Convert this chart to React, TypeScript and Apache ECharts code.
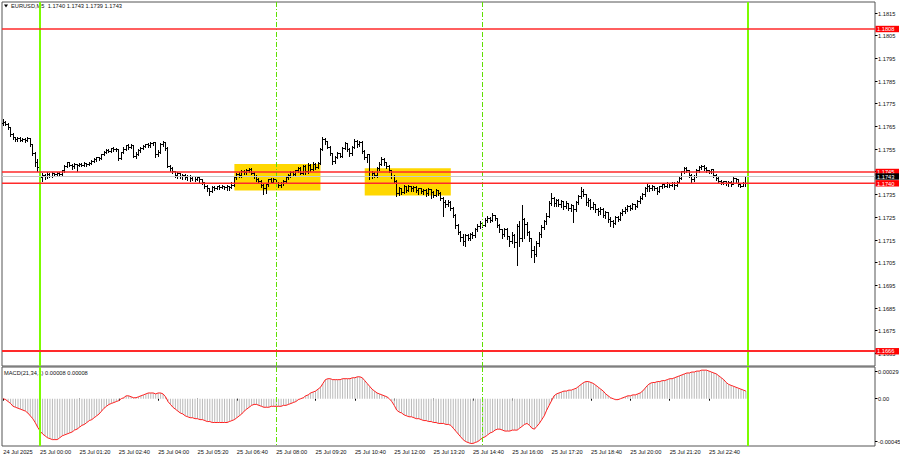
import React, { useEffect, useRef } from 'react';
import * as echarts from 'echarts';

// ---------- data (prices in pips above BASE) ----------
const SYMBOL = 'EURUSD,M5';
const BASE = 1.17;
const PIP = 0.0001;
const START_DAY = 24;
const START_MINUTE = 22 * 60 + 45; // first bar 24 Jul 22:45
const STEP_MINUTES = 5;
const TOTAL_SLOTS = 355; // bars + empty space on the right
const FIRST_OPEN = 66.5;

const CLOSE = [
  67.0, 66.0, 64.5, 61.5, 60.0, 59.2, 59.8, 59.0, 59.5, 58.8,
  59.6, 57.0, 53.0, 49.0, 47.0, 42.5, 43.5, 43.0, 44.0, 43.2,
  44.2, 43.8, 44.5, 44.0, 45.5, 47.5, 49.0, 48.0, 47.2, 48.3,
  47.8, 48.5, 48.0, 48.6, 48.2, 48.8, 49.8, 50.5, 51.2, 50.8,
  52.5, 53.5, 54.5, 54.0, 55.2, 54.8, 55.0, 50.8, 53.5, 55.0,
  56.5, 55.8, 56.8, 52.0, 52.8, 54.5, 55.5, 56.2, 57.0, 56.5,
  57.5, 57.8, 52.5, 53.8, 57.0, 58.0, 55.5, 47.5, 46.5, 45.0,
  43.5, 44.2, 42.8, 43.6, 42.5, 43.2, 42.0, 42.8, 41.8, 42.5,
  41.5, 40.2, 38.8, 37.5, 36.5, 38.2, 37.8, 38.6, 38.2, 38.8,
  38.0, 38.6, 38.2, 39.0, 42.5, 44.0, 43.5, 45.2, 44.6, 45.8,
  46.2, 44.5, 43.0, 41.8, 41.0, 39.0, 37.5, 39.5, 41.5, 40.5,
  41.8, 40.0, 39.0, 39.8, 40.8, 42.5, 43.5, 44.8, 44.0, 45.5,
  46.5, 44.5, 47.5, 45.0, 47.8, 46.0, 48.5, 47.0, 48.8, 55.0,
  59.5, 58.5, 56.0, 53.0, 49.5, 51.5, 53.0, 52.0, 55.5, 57.5,
  55.0, 53.0, 56.0, 58.5, 57.0, 58.2, 54.0, 51.5, 52.5, 43.0,
  44.5, 43.5, 46.5, 48.5, 50.5, 49.0, 47.5, 45.5, 43.0, 41.0,
  35.5, 37.5, 36.0, 38.5, 37.0, 38.8, 37.5, 38.2, 36.8, 37.6,
  36.2, 37.0, 35.5, 37.2, 36.0, 34.5, 36.8, 35.5, 33.5, 31.5,
  30.5, 31.5, 29.0, 26.0, 21.5, 18.5, 16.0, 14.5, 17.0, 15.8,
  17.5, 16.8, 19.5, 21.0, 22.5, 21.5, 23.8, 24.5, 23.5, 25.8,
  24.5, 21.5, 19.5, 17.5, 19.8, 16.5, 14.5, 17.0, 14.0, 21.0,
  15.5, 24.0, 22.0, 18.5, 15.5, 10.5, 8.5, 13.5, 17.5, 20.5,
  23.0, 25.5, 31.0, 33.5, 31.0, 32.5, 30.5, 31.8, 29.8, 31.2,
  29.0, 30.2, 28.5, 31.5, 34.0, 36.5, 35.0, 31.5, 32.5, 29.5,
  30.8, 28.5, 27.5, 28.5, 26.0, 27.0, 24.0, 23.0, 22.5, 25.0,
  24.2, 26.5, 27.8, 28.5, 29.8, 29.0, 30.5, 29.8, 31.8, 33.5,
  35.0, 37.5, 38.8, 37.5, 38.5, 37.8, 36.5, 38.5, 39.5, 38.8,
  39.8, 39.0, 40.0, 39.2, 40.5, 42.0, 45.0, 46.5, 45.5, 43.5,
  41.5, 43.0, 45.5, 46.8, 47.5, 46.5, 45.5, 45.0, 46.0, 43.5,
  42.2, 41.0, 40.2, 40.6, 40.0, 40.5, 39.6, 42.0, 41.5, 39.5,
  38.8, 40.0, 43.0,
];

const HIGH = [
  68.2, 67.5, 66.5, 64.8, 62.0, 60.5, 60.3, 60.2, 60.0, 60.0,
  60.6, 59.8, 57.5, 54.0, 50.5, 54.5, 44.5, 44.0, 44.8, 44.5,
  44.8, 44.6, 45.0, 45.0, 46.0, 48.0, 49.6, 49.4, 48.5, 48.8,
  48.6, 49.0, 48.8, 49.2, 49.0, 49.3, 50.2, 51.0, 51.8, 51.6,
  53.0, 54.2, 55.0, 55.2, 55.6, 55.8, 55.4, 55.2, 54.0, 55.8,
  57.0, 57.2, 57.3, 57.0, 53.6, 55.0, 56.0, 56.8, 57.5, 57.6,
  58.0, 58.4, 58.0, 54.5, 57.6, 58.6, 58.2, 55.8, 48.2, 47.0,
  45.5, 44.8, 44.5, 44.2, 44.0, 43.8, 43.5, 43.4, 43.0, 43.2,
  42.8, 42.0, 40.5, 39.2, 38.0, 38.6, 38.8, 39.0, 39.2, 39.4,
  39.0, 39.2, 39.0, 40.5, 43.0, 44.6, 45.0, 45.8, 46.0, 46.4,
  46.8, 46.6, 45.0, 43.5, 42.2, 41.5, 39.5, 40.0, 42.0, 42.2,
  42.4, 42.0, 40.6, 40.5, 41.5, 43.0, 44.0, 45.4, 45.5, 46.0,
  47.2, 47.0, 48.2, 48.0, 49.0, 48.5, 49.2, 49.0, 49.5, 55.5,
  60.5, 60.0, 58.8, 56.5, 53.5, 52.0, 53.6, 53.5, 56.0, 58.0,
  57.8, 55.5, 56.5, 59.5, 59.0, 58.8, 58.5, 54.5, 53.0, 52.8,
  45.5, 45.0, 47.0, 49.5, 51.6, 51.0, 49.5, 48.0, 46.0, 43.5,
  41.5, 38.2, 38.0, 39.2, 39.0, 39.4, 39.0, 38.8, 38.6, 38.0,
  37.8, 37.6, 37.4, 37.8, 37.5, 36.6, 37.5, 37.2, 36.0, 34.0,
  32.5, 32.5, 32.0, 29.5, 26.5, 22.0, 19.0, 17.5, 17.8, 17.6,
  18.2, 18.6, 20.2, 22.0, 23.4, 23.0, 24.6, 25.5, 25.0, 26.8,
  26.2, 24.8, 22.0, 20.0, 20.5, 20.2, 17.0, 18.5, 17.6, 22.0,
  23.5, 30.5, 24.5, 23.0, 19.0, 16.0, 12.5, 14.5, 18.5, 21.5,
  24.0, 27.0, 32.0, 35.7, 34.0, 33.2, 33.0, 32.6, 32.2, 32.0,
  31.5, 31.0, 30.6, 32.2, 34.8, 38.5, 37.5, 35.5, 33.6, 33.0,
  31.6, 31.0, 29.2, 29.5, 29.0, 27.8, 27.2, 25.0, 24.0, 25.6,
  25.8, 27.2, 28.6, 29.6, 30.5, 30.5, 31.2, 31.0, 32.6, 34.5,
  35.8, 38.2, 39.6, 39.2, 39.2, 39.0, 38.5, 39.0, 40.0, 40.2,
  40.4, 40.2, 40.6, 40.4, 41.2, 42.8, 45.6, 47.0, 47.0, 46.0,
  44.0, 43.8, 46.2, 47.5, 48.2, 48.0, 47.0, 46.0, 46.5, 46.2,
  44.0, 42.6, 41.5, 41.0, 41.0, 41.2, 41.0, 42.8, 42.5, 42.0,
  40.2, 40.5, 43.0,
];

const LOW = [
  65.8, 65.5, 64.0, 61.0, 59.5, 58.5, 58.8, 58.6, 58.7, 58.3,
  58.6, 56.5, 52.5, 47.5, 45.5, 36.0, 41.0, 42.0, 42.5, 42.8,
  43.0, 43.2, 43.5, 43.6, 43.8, 45.2, 47.0, 47.5, 46.5, 46.8,
  45.5, 47.5, 47.6, 47.8, 47.6, 47.9, 48.5, 49.5, 50.0, 50.2,
  50.6, 52.3, 53.2, 53.6, 53.8, 54.3, 54.2, 50.2, 50.5, 53.2,
  54.5, 55.2, 55.5, 51.5, 51.2, 52.5, 54.0, 55.0, 55.8, 56.0,
  56.2, 57.0, 51.8, 52.0, 53.5, 56.5, 54.8, 47.0, 45.5, 44.5,
  42.8, 42.5, 42.3, 42.0, 41.8, 41.5, 41.2, 41.6, 41.0, 41.5,
  40.8, 39.5, 38.0, 36.8, 35.0, 36.2, 37.0, 37.4, 37.6, 37.8,
  37.5, 37.2, 37.0, 37.8, 38.8, 42.0, 42.8, 43.0, 44.0, 44.2,
  45.0, 44.0, 42.4, 41.0, 40.2, 38.5, 35.5, 35.8, 39.0, 40.0,
  40.2, 39.5, 38.4, 38.5, 39.2, 40.5, 42.0, 43.0, 43.5, 43.8,
  45.0, 44.0, 44.2, 44.0, 44.6, 45.5, 45.8, 46.5, 46.8, 48.5,
  54.8, 57.5, 55.5, 52.5, 48.5, 49.0, 51.0, 51.5, 51.8, 55.0,
  54.2, 52.0, 52.6, 55.5, 56.2, 56.5, 53.5, 50.5, 49.5, 42.0,
  42.5, 42.8, 43.0, 46.0, 48.0, 48.2, 46.8, 45.0, 42.5, 40.0,
  34.5, 35.0, 35.2, 35.8, 36.2, 36.5, 36.8, 36.5, 36.0, 35.5,
  35.8, 35.2, 34.5, 35.0, 33.5, 33.8, 34.2, 34.8, 32.8, 25.5,
  29.5, 29.8, 28.2, 25.0, 20.5, 17.5, 14.8, 13.0, 12.2, 15.0,
  15.2, 16.0, 16.5, 19.0, 20.5, 20.8, 21.2, 23.0, 22.8, 23.2,
  23.8, 20.8, 18.6, 16.0, 16.8, 15.5, 12.5, 13.8, 12.0, 4.0,
  12.5, 14.8, 16.0, 17.2, 14.5, 7.5, 5.5, 8.0, 12.5, 16.5,
  19.8, 22.0, 25.0, 30.5, 30.2, 30.0, 29.8, 29.5, 28.8, 29.0,
  28.2, 28.0, 23.0, 28.0, 31.0, 33.5, 34.2, 30.5, 30.0, 28.5,
  28.8, 27.2, 26.0, 26.5, 25.0, 24.5, 23.0, 21.0, 20.8, 22.0,
  23.2, 23.8, 26.0, 27.0, 28.0, 28.4, 28.6, 28.5, 29.5, 31.4,
  33.0, 34.5, 36.8, 36.8, 37.0, 37.2, 35.2, 36.0, 38.0, 38.2,
  38.4, 38.5, 38.8, 37.6, 39.0, 40.2, 41.8, 44.5, 44.8, 42.8,
  40.6, 41.0, 42.8, 45.0, 46.2, 46.0, 45.0, 44.4, 44.5, 43.0,
  41.5, 40.5, 39.6, 39.5, 39.4, 39.0, 38.8, 39.5, 40.8, 38.6,
  38.2, 38.6, 39.0,
];

// MACD(21,34,1) main values in units of 0.00001 (signal with period 1 equals main)
const MACD_E5 = [
  0, -1, -3, -5, -8, -9, -10, -11, -12, -13,
  -15, -18, -21, -25, -30, -34, -37, -39, -41, -42,
  -43, -43, -43, -41, -39, -38, -37, -36, -35, -33,
  -32, -30, -28, -27, -25, -23, -22, -20, -18, -16,
  -13, -10, -8, -6, -5, -4, -3, -2, 0, 1,
  3, 3, 2, 1, 1, 2, 3, 4, 5, 6,
  6, 6, 5, 6, 6, 5, 2, -3, -6, -9,
  -11, -13, -15, -16, -18, -19, -20, -20, -21, -21,
  -22, -22, -23, -24, -24, -25, -25, -25, -25, -25,
  -25, -25, -24, -23, -22, -20, -18, -16, -13, -11,
  -9, -7, -6, -6, -7, -8, -9, -9, -9, -8,
  -8, -8, -8, -8, -7, -7, -6, -5, -4, -3,
  -1, 0, 1, 3, 4, 6, 7, 8, 10, 12,
  16, 20, 21, 21, 20, 20, 20, 20, 21, 21,
  21, 21, 22, 22, 23, 23, 22, 19, 16, 13,
  10, 8, 6, 5, 4, 3, 2, 0, -3, -7,
  -12, -14, -15, -17, -18, -19, -19, -20, -21, -21,
  -22, -23, -23, -24, -24, -25, -25, -26, -26, -26,
  -27, -27, -28, -31, -34, -37, -40, -43, -45, -46,
  -47, -47, -46, -45, -43, -41, -40, -38, -36, -35,
  -33, -32, -32, -33, -34, -34, -34, -33, -33, -33,
  -31, -29, -27, -26, -28, -31, -32, -29, -26, -22,
  -18, -12, -7, -2, 3, 5, 6, 7, 8, 8,
  9, 9, 10, 11, 13, 15, 17, 18, 18, 17,
  16, 14, 12, 10, 8, 5, 3, 1, 0, -1,
  -1, 0, 1, 2, 3, 3, 4, 4, 5, 6,
  8, 11, 14, 16, 17, 17, 18, 18, 19, 19,
  20, 21, 21, 22, 23, 24, 25, 26, 27, 27,
  28, 28, 29, 29, 30, 30, 30, 29, 28, 27,
  26, 24, 22, 20, 17, 15, 14, 13, 12, 11,
  10, 9, 8,
];

const PRICE_TICKS = [
  1.1815, 1.1805, 1.1795, 1.1785, 1.1775, 1.1765, 1.1755, 1.1745,
  1.1735, 1.1725, 1.1715, 1.1705, 1.1695, 1.1685, 1.1675, 1.1665,
];
const MACD_TICKS = [0.00029, 0, -0.00045];
const X_TICK_LABELS = [
  '24 Jul 2025', '25 Jul 00:00', '25 Jul 01:20', '25 Jul 02:40', '25 Jul 04:00',
  '25 Jul 05:20', '25 Jul 06:40', '25 Jul 08:00', '25 Jul 09:20', '25 Jul 10:40',
  '25 Jul 12:00', '25 Jul 13:20', '25 Jul 14:40', '25 Jul 16:00', '25 Jul 17:20',
  '25 Jul 18:40', '25 Jul 20:00', '25 Jul 21:20', '25 Jul 22:40',
];

const RED_LEVELS = [1.1808, 1.1745, 1.174];
const STRONG_LEVEL = 1.1666;
const BID = 1.1743;
const SOLID_VLINES = ['25 Jul 00:00', '26 Jul 00:00'];
const DASH_VLINES = ['25 Jul 08:00', '25 Jul 15:00'];
const BOX_FROM = ['25 Jul 06:35', '25 Jul 11:00'];
const BOX_TO = ['25 Jul 09:30', '25 Jul 13:55'];
const BOX_TOP = [1.17485, 1.17466];
const BOX_BOTTOM = [1.17368, 1.17346];

const MAIN_MIN = 1.16595;
const MAIN_MAX = 1.18199;
const MACD_MIN = -0.000497;
const MACD_MAX = 0.000333;

// ---------- helpers ----------
const FONT = '"Liberation Sans", Arial, sans-serif';
const FS = 5.7;
const pad2 = (n: number) => (n < 10 ? '0' + n : '' + n);
const slotLabel = (i: number) => {
  const t = START_MINUTE + i * STEP_MINUTES;
  const day = START_DAY + Math.floor(t / 1440);
  const m = t % 1440;
  return `${day} Jul ${pad2(Math.floor(m / 60))}:${pad2(m % 60)}`;
};
const CATS = Array.from({ length: TOTAL_SLOTS }, (_, i) => slotLabel(i));
const toPrice = (p: number) => Number((BASE + p * PIP).toFixed(5));
const crisp = (v: number, w: number) => (w % 2 === 1 ? Math.round(v - 0.5) + 0.5 : Math.round(v));

export default function App() {
  const ref = useRef<HTMLDivElement>(null);

  useEffect(() => {
    if (!ref.current) return;
    const chart = echarts.init(ref.current, undefined, { renderer: 'svg' });

    const n = Math.min(CLOSE.length, HIGH.length, LOW.length);
    const bars = [] as number[][];
    for (let i = 0; i < n; i++) {
      const open = i === 0 ? FIRST_OPEN : CLOSE[i - 1];
      bars.push([i, toPrice(open), toPrice(CLOSE[i]), toPrice(LOW[i]), toPrice(HIGH[i])]);
    }
    const last = bars[bars.length - 1];
    const header = `${SYMBOL}  ${last[1].toFixed(4)} ${last[4].toFixed(4)} ${last[3].toFixed(4)} ${last[2].toFixed(4)}`;
    const macd = MACD_E5.slice(0, n).map((v) => Number((v * 1e-5).toFixed(6)));
    const lastMacd = macd[macd.length - 1].toFixed(5);
    const macdHeader = `MACD(21,34,1) ${lastMacd} ${lastMacd}`;

    const showLabel = (idx: number, value: string) =>
      idx === 0 || (idx < n && X_TICK_LABELS.indexOf(value) >= 0);

    // level rows: [x, price, kind] kind 0 = red thin, 1 = red thick, 2 = bid
    const levelRows = [
      ...RED_LEVELS.map((v) => [0, v, 0]),
      [0, STRONG_LEVEL, 1],
      [0, BID, 2],
    ];
    // vertical line rows: [category, kind] kind 0 = solid, 1 = dash-dot
    const vlineRows = [...SOLID_VLINES.map((c) => [c, 0]), ...DASH_VLINES.map((c) => [c, 1])];

    const tickRenderer = (fmt: (v: number) => string) => (params: any, api: any) => {
      const v = api.value(1);
      const y = crisp(api.coord([0, v])[1], 1);
      const cs = params.coordSys;
      const xr = cs.x + cs.width;
      return {
        type: 'group',
        children: [
          { type: 'line', shape: { x1: xr, y1: y, x2: xr + 2.5, y2: y }, style: { stroke: '#000', lineWidth: 1 } },
          {
            type: 'text',
            x: xr + 3,
            y,
            style: { text: fmt(v), fontSize: FS, fontFamily: FONT, fill: '#111', align: 'left', verticalAlign: 'middle' },
          },
        ],
      };
    };

    const levelRenderer = (params: any, api: any) => {
      const v = api.value(1);
      const kind = api.value(2);
      const w = kind === 1 ? 2 : kind === 0 ? 1.5 : 1;
      const yc = api.coord([0, v])[1];
      const top = kind === 1 ? Math.round(yc - 1) : kind === 0 ? yc - 0.75 : Math.round(yc - 0.5);
      const cs = params.coordSys;
      const xr = cs.x + cs.width;
      const lineColor = kind === 2 ? '#c8c8c8' : '#ff2a2a';
      const boxColor = kind === 2 ? '#000000' : '#ff0000';
      return {
        type: 'group',
        children: [
          { type: 'rect', shape: { x: cs.x, y: top, width: cs.width, height: w }, style: { fill: lineColor } },
          { type: 'rect', shape: { x: xr + 0.5, y: yc - 3.2, width: 23.5, height: 6.4 }, style: { fill: boxColor } },
          {
            type: 'text',
            x: xr + 2,
            y: yc + 0.2,
            style: { text: v.toFixed(4), fontSize: FS, fontFamily: FONT, fill: '#fff', align: 'left', verticalAlign: 'middle' },
          },
        ],
      };
    };

    const vlineRenderer = (params: any, api: any) => {
      const kind = api.value(1);
      const w = kind === 0 ? 2 : 1;
      const x = crisp(api.coord([api.value(0), 0])[0], w);
      const cs = params.coordSys;
      return {
        type: 'line',
        shape: { x1: x, y1: cs.y, x2: x, y2: cs.y + cs.height },
        style: {
          stroke: kind === 0 ? '#7cfc00' : '#5ee000',
          lineWidth: w,
          lineDash: kind === 0 ? null : [5, 2, 1, 2],
        },
      };
    };

    const option: any = {
      animation: false,
      backgroundColor: '#ffffff',
      grid: [
        { left: 2, top: 2, width: 873, height: 364, show: true, borderColor: '#555', borderWidth: 1, backgroundColor: '#fff' },
        { left: 2, top: 367, width: 873, height: 79, show: true, borderColor: '#555', borderWidth: 1, backgroundColor: '#fff' },
      ],
      xAxis: [
        {
          type: 'category', gridIndex: 0, data: CATS, boundaryGap: true,
          axisLine: { show: false }, axisTick: { show: false }, axisLabel: { show: false }, splitLine: { show: false },
        },
        {
          type: 'category', gridIndex: 1, data: CATS, boundaryGap: true,
          axisLine: { show: false },
          axisTick: { show: true, alignWithLabel: true, interval: showLabel, length: 2, lineStyle: { color: '#000' } },
          axisLabel: {
            interval: showLabel,
            formatter: (v: string, idx: number) => (idx === 0 ? X_TICK_LABELS[0] : v),
            fontSize: FS, fontFamily: FONT, color: '#111', align: 'left', margin: 3,
          },
          splitLine: { show: false },
        },
      ],
      yAxis: [
        {
          type: 'value', gridIndex: 0, position: 'right', min: MAIN_MIN, max: MAIN_MAX,
          axisLine: { show: false }, axisTick: { show: false }, axisLabel: { show: false }, splitLine: { show: false },
        },
        {
          type: 'value', gridIndex: 1, position: 'right', min: MACD_MIN, max: MACD_MAX,
          axisLine: { show: false }, axisTick: { show: false }, axisLabel: { show: false }, splitLine: { show: false },
        },
      ],
      graphic: [
        { type: 'polygon', shape: { points: [[4, 4.5], [8, 4.5], [6, 7.5]] }, style: { fill: '#000' } },
        { type: 'text', left: 11, top: 3, style: { text: header, fontSize: FS, fontFamily: FONT, fill: '#111' } },
        { type: 'text', left: 4, top: 370, style: { text: macdHeader, fontSize: FS, fontFamily: FONT, fill: '#111' } },
      ],
      series: [
        {
          name: 'bars',
          type: 'custom',
          xAxisIndex: 0,
          yAxisIndex: 0,
          z: 3,
          clip: true,
          silent: true,
          data: bars,
          encode: { x: 0, y: [1, 2, 3, 4] },
          renderItem: (params: any, api: any) => {
            const i = api.value(0);
            const p0 = api.coord([i, api.value(1)]);
            const x = crisp(p0[0], 1);
            const yO = crisp(p0[1], 1);
            const yC = crisp(api.coord([i, api.value(2)])[1], 1);
            let yL = Math.round(api.coord([i, api.value(3)])[1]) + 1;
            const yH = Math.round(api.coord([i, api.value(4)])[1]);
            if (yL - yH < 1) yL = yH + 1;
            const st = { stroke: '#000', lineWidth: 1 };
            return {
              type: 'group',
              children: [
                { type: 'line', shape: { x1: x, y1: yH, x2: x, y2: yL }, style: st },
                { type: 'line', shape: { x1: x - 1.5, y1: yO, x2: x, y2: yO }, style: st },
                { type: 'line', shape: { x1: x, y1: yC, x2: x + 1.5, y2: yC }, style: st },
              ],
            };
          },
          markArea: {
            silent: true,
            z: 1,
            itemStyle: { color: '#ffd700', opacity: 1 },
            data: BOX_FROM.map((f, k) => [
              { xAxis: f, yAxis: BOX_TOP[k] },
              { xAxis: BOX_TO[k], yAxis: BOX_BOTTOM[k] },
            ]),
          },
        },
        {
          name: 'priceTicks',
          type: 'custom',
          xAxisIndex: 0,
          yAxisIndex: 0,
          z: 1,
          clip: false,
          silent: true,
          data: PRICE_TICKS.map((v) => [0, v]),
          encode: { x: 0, y: 1 },
          renderItem: tickRenderer((v) => v.toFixed(4)),
        },
        {
          name: 'levels',
          type: 'custom',
          xAxisIndex: 0,
          yAxisIndex: 0,
          z: 6,
          clip: false,
          silent: true,
          data: levelRows,
          encode: { x: 0, y: 1 },
          renderItem: levelRenderer,
        },
        {
          name: 'vlinesMain',
          type: 'custom',
          xAxisIndex: 0,
          yAxisIndex: 0,
          z: 5,
          clip: false,
          silent: true,
          data: vlineRows,
          encode: { x: 0 },
          renderItem: vlineRenderer,
        },
        {
          name: 'MACD',
          type: 'bar',
          xAxisIndex: 1,
          yAxisIndex: 1,
          barWidth: 1,
          z: 2,
          silent: true,
          itemStyle: { color: '#b9b9b9' },
          data: macd,
        },
        {
          name: 'Signal',
          type: 'line',
          xAxisIndex: 1,
          yAxisIndex: 1,
          z: 3,
          silent: true,
          showSymbol: false,
          symbol: 'none',
          lineStyle: { color: '#ff2020', width: 1 },
          data: macd,
        },
        {
          name: 'vlinesMacd',
          type: 'custom',
          xAxisIndex: 1,
          yAxisIndex: 1,
          z: 5,
          clip: false,
          silent: true,
          data: vlineRows,
          encode: { x: 0 },
          renderItem: vlineRenderer,
        },
        {
          name: 'macdTicks',
          type: 'custom',
          xAxisIndex: 1,
          yAxisIndex: 1,
          z: 1,
          clip: false,
          silent: true,
          data: MACD_TICKS.map((v) => [0, v]),
          encode: { x: 0, y: 1 },
          renderItem: tickRenderer((v) => (v === 0 ? '0.00' : v.toFixed(5))),
        },
      ],
    };

    chart.setOption(option);
    return () => chart.dispose();
  }, []);

  return (
    <div
      ref={ref}
      style={{ position: 'absolute', left: 0, top: 0, width: 900, height: 460, background: '#fff' }}
    />
  );
}
